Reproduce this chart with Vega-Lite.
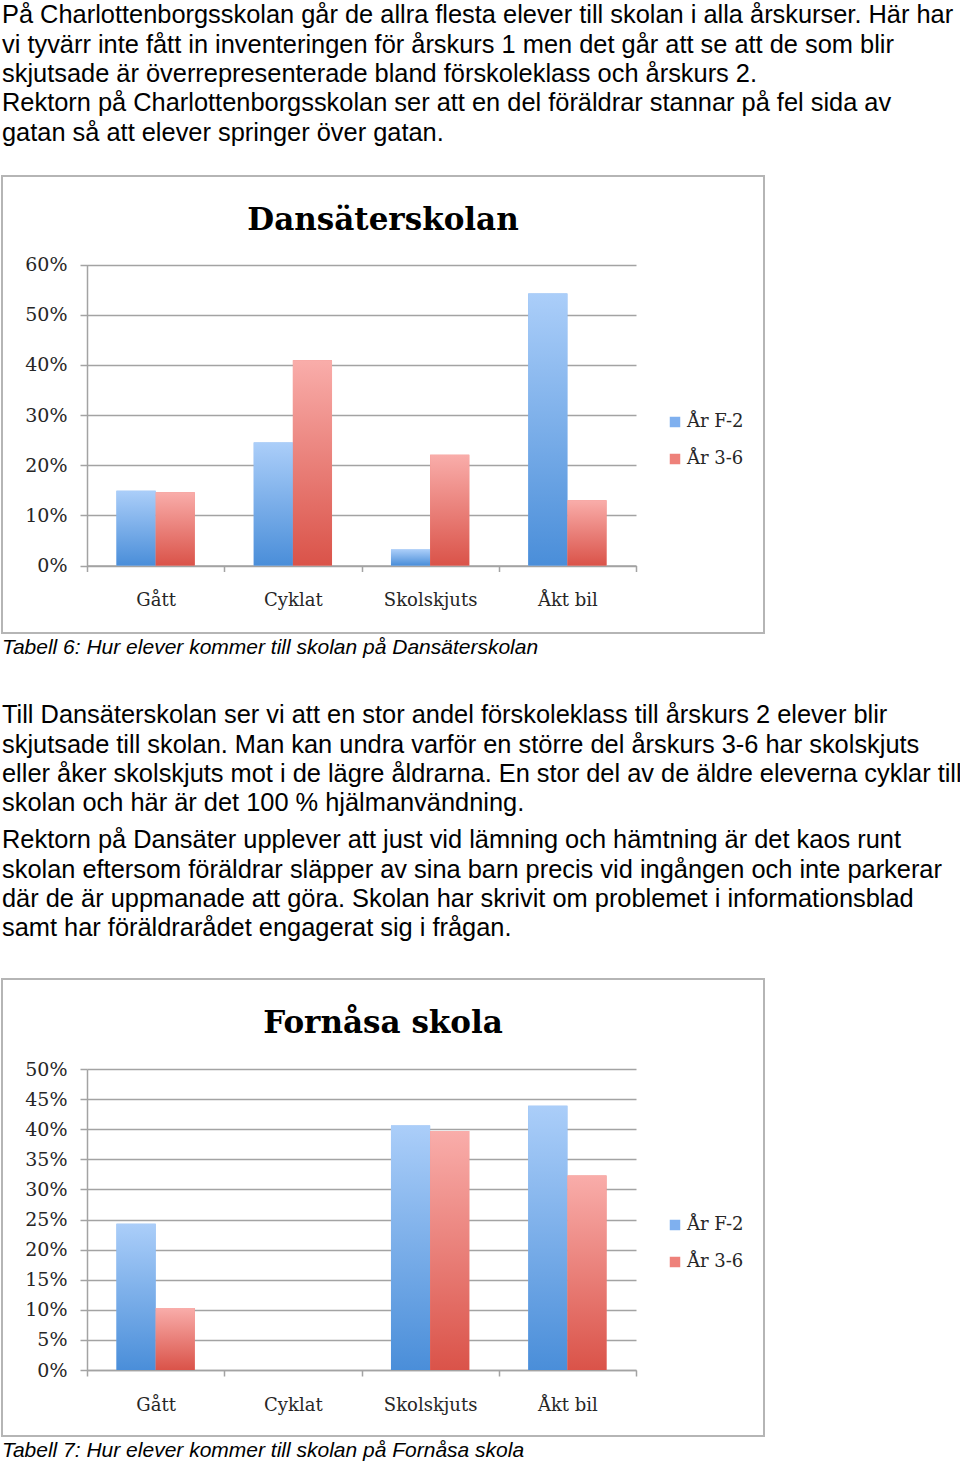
{
  "$schema": "https://vega.github.io/schema/vega-lite/v6.json",
  "background": "white",
  "padding": {"left": 1, "top": 0, "right": 0, "bottom": 0},
  "spacing": 0,
  "bounds": "flush",
  "config": {
    "view": {"stroke": null},
    "axis": {
      "labelFont": "DejaVu Serif",
      "labelFontSize": 18,
      "labelColor": "#262626",
      "domainColor": "#a3a3a3",
      "tickColor": "#a3a3a3",
      "gridColor": "#a3a3a3",
      "domainWidth": 1.5,
      "tickWidth": 1.5,
      "gridWidth": 1.5
    },
    "title": {"font": "DejaVu Serif", "fontSize": 31, "fontWeight": "bold", "color": "#000000", "anchor": "middle", "frame": "group", "baseline": "alphabetic", "offset": -61}
  },
  "resolve": {
    "scale": {"x": "independent", "y": "independent", "color": "independent", "xOffset": "independent"},
    "legend": {"color": "independent"}
  },
  "datasets": {
    "text": [
      {"block": "p1", "rad": 1, "text": "På Charlottenborgsskolan går de allra flesta elever till skolan i alla årskurser. Här har"},
      {"block": "p1", "rad": 2, "text": "vi tyvärr inte fått in inventeringen för årskurs 1 men det går att se att de som blir"},
      {"block": "p1", "rad": 3, "text": "skjutsade är överrepresenterade bland förskoleklass och årskurs 2."},
      {"block": "p1", "rad": 4, "text": "Rektorn på Charlottenborgsskolan ser att en del föräldrar stannar på fel sida av"},
      {"block": "p1", "rad": 5, "text": "gatan så att elever springer över gatan."},
      {"block": "c1", "rad": 1, "text": "Tabell 6: Hur elever kommer till skolan på Dansäterskolan"},
      {"block": "p2", "rad": 1, "text": "Till Dansäterskolan ser vi att en stor andel förskoleklass till årskurs 2 elever blir"},
      {"block": "p2", "rad": 2, "text": "skjutsade till skolan. Man kan undra varför en större del årskurs 3-6 har skolskjuts"},
      {"block": "p2", "rad": 3, "text": "eller åker skolskjuts mot i de lägre åldrarna. En stor del av de äldre eleverna cyklar till"},
      {"block": "p2", "rad": 4, "text": "skolan och här är det 100 % hjälmanvändning."},
      {"block": "p3", "rad": 1, "text": "Rektorn på Dansäter upplever att just vid lämning och hämtning är det kaos runt"},
      {"block": "p3", "rad": 2, "text": "skolan eftersom föräldrar släpper av sina barn precis vid ingången och inte parkerar"},
      {"block": "p3", "rad": 3, "text": "där de är uppmanade att göra. Skolan har skrivit om problemet i informationsblad"},
      {"block": "p3", "rad": 4, "text": "samt har föräldrarådet engagerat sig i frågan."},
      {"block": "c2", "rad": 1, "text": "Tabell 7: Hur elever kommer till skolan på Fornåsa skola"}
    ],
    "dansater": [
      {"transport": "Gått", "grupp": "År F-2", "andel": 0.149},
      {"transport": "Gått", "grupp": "År 3-6", "andel": 0.146},
      {"transport": "Cyklat", "grupp": "År F-2", "andel": 0.245},
      {"transport": "Cyklat", "grupp": "År 3-6", "andel": 0.409},
      {"transport": "Skolskjuts", "grupp": "År F-2", "andel": 0.032},
      {"transport": "Skolskjuts", "grupp": "År 3-6", "andel": 0.221},
      {"transport": "Åkt bil", "grupp": "År F-2", "andel": 0.542},
      {"transport": "Åkt bil", "grupp": "År 3-6", "andel": 0.130}
    ],
    "fornasa": [
      {"transport": "Gått", "grupp": "År F-2", "andel": 0.243},
      {"transport": "Gått", "grupp": "År 3-6", "andel": 0.103},
      {"transport": "Cyklat", "grupp": "År F-2", "andel": 0},
      {"transport": "Cyklat", "grupp": "År 3-6", "andel": 0},
      {"transport": "Skolskjuts", "grupp": "År F-2", "andel": 0.406},
      {"transport": "Skolskjuts", "grupp": "År 3-6", "andel": 0.397},
      {"transport": "Åkt bil", "grupp": "År F-2", "andel": 0.439},
      {"transport": "Åkt bil", "grupp": "År 3-6", "andel": 0.323}
    ]
  },
  "vconcat": [
    {
      "width": 958, "height": 176,
      "data": {"name": "text"},
      "transform": [{"filter": "datum.block === 'p1'"}],
      "mark": {"type": "text", "align": "left", "baseline": "middle", "font": "Liberation Sans", "fontSize": 25.4, "color": "#000000"},
      "encoding": {
        "x": {"datum": 0, "type": "quantitative", "scale": {"domain": [0, 1]}, "axis": null},
        "y": {"field": "rad", "type": "ordinal", "axis": null, "scale": {"range": [0.65, 147.15]}},
        "text": {"field": "text"}
      }
    },
    {
      "width": 762, "height": 457,
      "view": {"stroke": "#b5b5b5", "strokeWidth": 2},
      "title": {"text": "Dansäterskolan"},
      "data": {"name": "dansater"},
      "encoding": {
        "x": {"field": "transport", "type": "nominal", "sort": ["Gått", "Cyklat", "Skolskjuts", "Åkt bil"],
              "scale": {"range": [85, 634], "paddingInner": 0, "paddingOuter": 0},
              "axis": {"title": null, "offset": -67.5, "tickBand": "extent", "tickSize": 6, "labelAngle": 0, "labelPadding": 20}},
        "xOffset": {"field": "grupp", "type": "nominal", "sort": ["År F-2", "År 3-6"], "scale": {"paddingOuter": 0.753, "paddingInner": 0}},
        "y": {"field": "andel", "type": "quantitative",
              "scale": {"domain": [0, 0.6], "range": [389.5, 88.5], "nice": false, "zero": true},
              "axis": {"title": null, "offset": -85, "values": [0, 0.1, 0.2, 0.3, 0.4, 0.5, 0.6], "format": ".0%", "grid": true, "tickSize": 7, "labelPadding": 13, "labelFontSize": 19}}
      },
      "layer": [
        {
          "mark": {"type": "bar"},
          "encoding": {
            "color": {"field": "grupp", "type": "nominal",
                      "scale": {"domain": ["År F-2", "År 3-6"], "range": ["#7fb0ef", "#ee817a"]},
                      "legend": {"title": null, "orient": "none", "legendX": 664, "legendY": 237, "symbolType": "square", "symbolSize": 110, "symbolStrokeWidth": 0, "labelFont": "DejaVu Serif", "labelFontSize": 18, "labelColor": "#262626", "labelOffset": 3, "rowPadding": 19, "padding": 0}}
          }
        },
        {
          "mark": {"type": "bar"},
          "encoding": {
            "fill": {
              "condition": {"test": "datum.grupp === 'År F-2'", "value": {"gradient": "linear", "x1": 0, "y1": 0, "x2": 0, "y2": 1, "stops": [{"offset": 0, "color": "#abcef9"}, {"offset": 1, "color": "#4a8ed9"}]}},
              "value": {"gradient": "linear", "x1": 0, "y1": 0, "x2": 0, "y2": 1, "stops": [{"offset": 0, "color": "#f9adaa"}, {"offset": 1, "color": "#da5349"}]}
            }
          }
        }
      ]
    },
    {
      "width": 958, "height": 67,
      "data": {"name": "text"},
      "transform": [{"filter": "datum.block === 'c1'"}],
      "mark": {"type": "text", "align": "left", "baseline": "middle", "font": "Liberation Sans", "fontSize": 21, "fontStyle": "italic", "color": "#000000"},
      "encoding": {
        "x": {"datum": 0, "type": "quantitative", "scale": {"domain": [0, 1]}, "axis": null},
        "y": {"field": "rad", "type": "ordinal", "axis": null, "scale": {"range": [2, 28]}},
        "text": {"field": "text"}
      }
    },
    {
      "width": 958, "height": 125,
      "data": {"name": "text"},
      "transform": [{"filter": "datum.block === 'p2'"}],
      "mark": {"type": "text", "align": "left", "baseline": "middle", "font": "Liberation Sans", "fontSize": 25.4, "color": "#000000"},
      "encoding": {
        "x": {"datum": 0, "type": "quantitative", "scale": {"domain": [0, 1]}, "axis": null},
        "y": {"field": "rad", "type": "ordinal", "axis": null, "scale": {"range": [0.65, 117.85]}},
        "text": {"field": "text"}
      }
    },
    {
      "width": 958, "height": 154,
      "data": {"name": "text"},
      "transform": [{"filter": "datum.block === 'p3'"}],
      "mark": {"type": "text", "align": "left", "baseline": "middle", "font": "Liberation Sans", "fontSize": 25.4, "color": "#000000"},
      "encoding": {
        "x": {"datum": 0, "type": "quantitative", "scale": {"domain": [0, 1]}, "axis": null},
        "y": {"field": "rad", "type": "ordinal", "axis": null, "scale": {"range": [0.65, 117.85]}},
        "text": {"field": "text"}
      }
    },
    {
      "width": 762, "height": 457,
      "view": {"stroke": "#b5b5b5", "strokeWidth": 2},
      "title": {"text": "Fornåsa skola"},
      "data": {"name": "fornasa"},
      "encoding": {
        "x": {"field": "transport", "type": "nominal", "sort": ["Gått", "Cyklat", "Skolskjuts", "Åkt bil"],
              "scale": {"range": [85, 634], "paddingInner": 0, "paddingOuter": 0},
              "axis": {"title": null, "offset": -66, "tickBand": "extent", "tickSize": 6, "labelAngle": 0, "labelPadding": 20}},
        "xOffset": {"field": "grupp", "type": "nominal", "sort": ["År F-2", "År 3-6"], "scale": {"paddingOuter": 0.753, "paddingInner": 0}},
        "y": {"field": "andel", "type": "quantitative",
              "scale": {"domain": [0, 0.5], "range": [391, 90], "nice": false, "zero": true},
              "axis": {"title": null, "offset": -85, "values": [0, 0.05, 0.1, 0.15, 0.2, 0.25, 0.3, 0.35, 0.4, 0.45, 0.5], "format": ".0%", "grid": true, "tickSize": 7, "labelPadding": 13, "labelFontSize": 19}}
      },
      "layer": [
        {
          "mark": {"type": "bar"},
          "encoding": {
            "color": {"field": "grupp", "type": "nominal",
                      "scale": {"domain": ["År F-2", "År 3-6"], "range": ["#7fb0ef", "#ee817a"]},
                      "legend": {"title": null, "orient": "none", "legendX": 664, "legendY": 237, "symbolType": "square", "symbolSize": 110, "symbolStrokeWidth": 0, "labelFont": "DejaVu Serif", "labelFontSize": 18, "labelColor": "#262626", "labelOffset": 3, "rowPadding": 19, "padding": 0}}
          }
        },
        {
          "mark": {"type": "bar"},
          "encoding": {
            "fill": {
              "condition": {"test": "datum.grupp === 'År F-2'", "value": {"gradient": "linear", "x1": 0, "y1": 0, "x2": 0, "y2": 1, "stops": [{"offset": 0, "color": "#abcef9"}, {"offset": 1, "color": "#4a8ed9"}]}},
              "value": {"gradient": "linear", "x1": 0, "y1": 0, "x2": 0, "y2": 1, "stops": [{"offset": 0, "color": "#f9adaa"}, {"offset": 1, "color": "#da5349"}]}
            }
          }
        }
      ]
    },
    {
      "width": 958, "height": 28,
      "data": {"name": "text"},
      "transform": [{"filter": "datum.block === 'c2'"}],
      "mark": {"type": "text", "align": "left", "baseline": "middle", "font": "Liberation Sans", "fontSize": 21, "fontStyle": "italic", "color": "#000000"},
      "encoding": {
        "x": {"datum": 0, "type": "quantitative", "scale": {"domain": [0, 1]}, "axis": null},
        "y": {"field": "rad", "type": "ordinal", "axis": null, "scale": {"range": [2, 28]}},
        "text": {"field": "text"}
      }
    }
  ]
}
